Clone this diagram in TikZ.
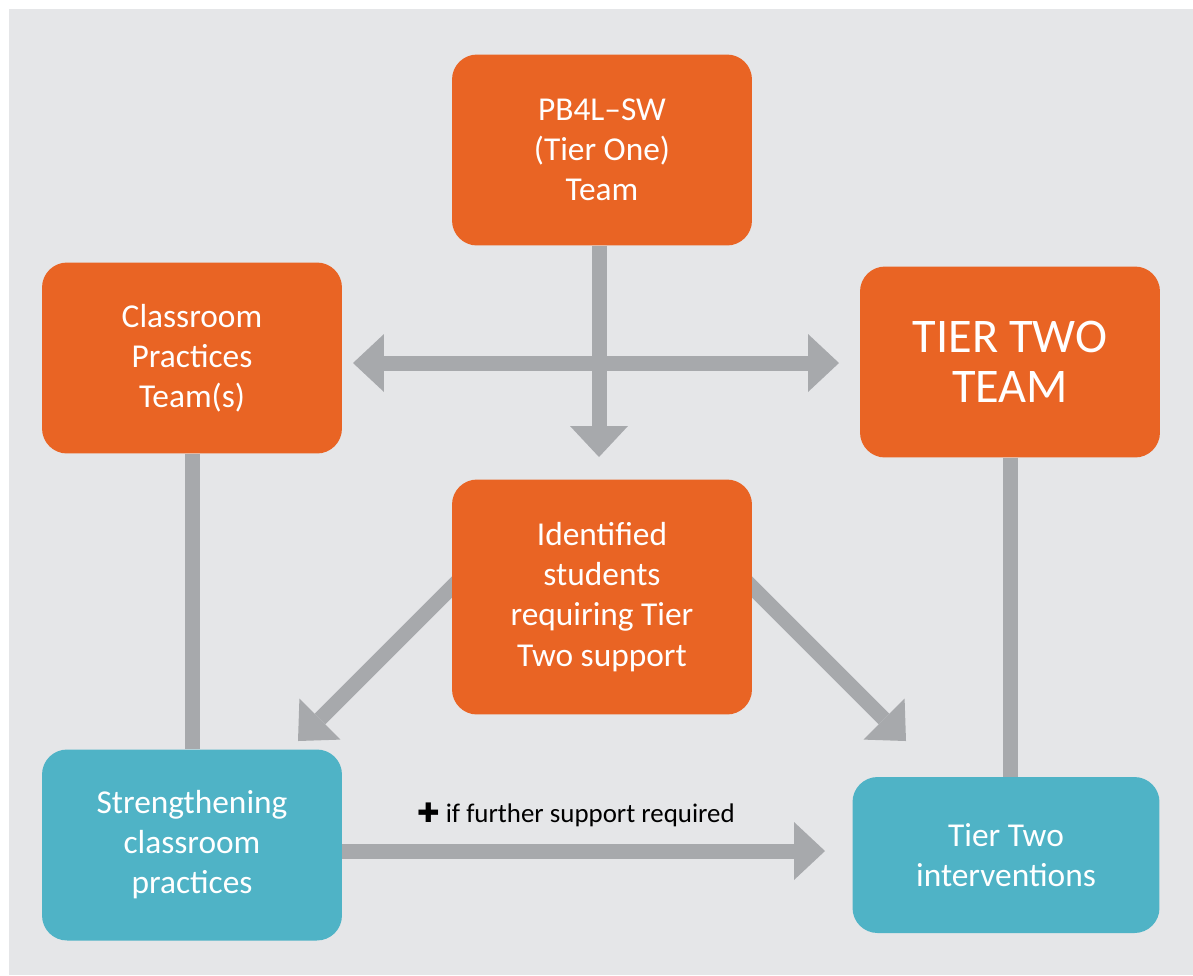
\documentclass[tikz,border=0pt]{standalone}
\usepackage{fontspec}
\setmainfont{Carlito}
\newfontfamily\symfont{DejaVu Sans}
\usetikzlibrary{arrows.meta,backgrounds}

\definecolor{panel}{HTML}{E5E6E8}
\definecolor{teamorange}{HTML}{E96424}
\definecolor{actionteal}{HTML}{4FB3C6}
\definecolor{linkgrey}{HTML}{A7A9AC}

\begin{document}
\begin{tikzpicture}[x=0.02cm, y=-0.02cm,
    team box/.style={rectangle, rounded corners=0.5cm, fill=teamorange, text=white, align=center, minimum width=6cm, minimum height=3.82cm, font=\fontsize{19}{22.8}\selectfont},
    action box/.style={team box, fill=actionteal},
    link/.style={draw=linkgrey, line width=0.3cm},
    big tip/.style={-{Triangle[length=0.62cm, width=1.16cm, line width=0pt]}},
    arrow/.style={link, big tip},
    twoway/.style={link, {Triangle[length=0.62cm, width=1.16cm, line width=0pt]}-{Triangle[length=0.62cm, width=1.16cm, line width=0pt]}}]
    \useasboundingbox (0,0) rectangle (1193,975);

    % the teams
    \node[team box] (tier1) at (602,150) {PB4L--SW\\(Tier One)\\Team};
    \node[team box] (cpt) at (192,358) {Classroom\\Practices\\Team(s)};
    \node[team box, font=\fontsize{27.5}{28.5}\selectfont] (t2team) at (1010,362) {TIER TWO\\TEAM};
    \node[team box, minimum height=4.7cm] (ident) at (602,597) {Identified\\students\\requiring Tier\\Two support};

    % what they lead to
    \node[action box] (streng) at (192,845) {Strengthening\\classroom\\practices};
    \node[action box, minimum width=6.14cm, minimum height=3.12cm] (t2int) at (1006,855) {Tier Two\\interventions};
    \node[font=\fontsize{15.3}{18}\selectfont] (note) at (576,815) {{\symfont ✚} if further support required};

    % arrow ends
    \coordinate (hl) at (353,363);
    \coordinate (hr) at (839,363);
    \coordinate (down) at (599,457);
    \coordinate (dls) at (470,569);
    \coordinate (dl) at (298,741);
    \coordinate (drs) at (734,569);
    \coordinate (dr) at (906,741);
    \coordinate (br) at (825,851);

    \begin{scope}[on background layer]
        \fill[panel] (9,9) rectangle (1193,975);
        \draw[twoway] (hl) -- (hr);
        \draw[arrow] (tier1.south -| down) -- (down);
        \draw[link] (cpt.south) -- (streng.north);
        \draw[link] (t2team.south) -- (t2team.south |- t2int.north);
        \draw[arrow] (dls) -- (dl);
        \draw[arrow] (drs) -- (dr);
        \draw[arrow] (streng.east |- br) -- (br);
    \end{scope}
\end{tikzpicture}
\end{document}
